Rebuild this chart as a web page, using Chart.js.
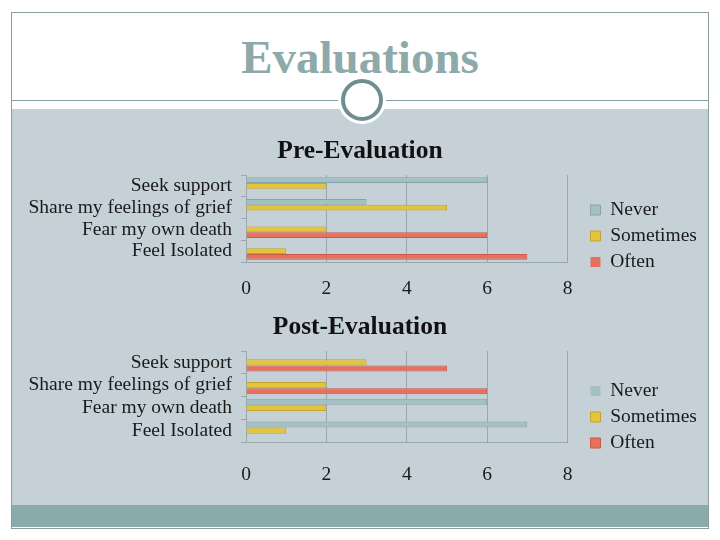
<!DOCTYPE html>
<html>
<head>
<meta charset="utf-8">
<title>Evaluations</title>
<script src="https://cdn.jsdelivr.net/npm/chart.js@4.4.1/dist/chart.umd.min.js"></script>
<style>
    body { margin: 0; width: 720px; height: 540px; position: relative; overflow: hidden; background: #fff; font-family: "Liberation Serif", serif; }
    #frame { position: absolute; left: 11px; top: 12px; width: 696px; height: 515px; border: 1px solid #8a9c9c; }
    #rule { position: absolute; left: 12px; top: 100px; width: 696px; height: 1px; background: #8a9c9c; }
    #panel { position: absolute; left: 12px; top: 109px; width: 696px; height: 396px; background: #c5d1d7; }
    #band { position: absolute; left: 12px; top: 505px; width: 696px; height: 22px; background: #8aabab; }
    #ring { position: absolute; left: 341px; top: 79px; width: 42px; height: 42px; box-sizing: border-box; border: 4.5px solid #6f8e8e; border-radius: 50%; background: #fff; box-shadow: 0 0 0 3px #fff; }
    #title { position: absolute; left: 0; top: 34px; width: 720px; text-align: center; font-size: 47px; line-height: 47px; font-weight: bold; color: #8ea9a9; }
    canvas { position: absolute; left: 0; }
    #pre { top: 135px; }
    #post { top: 311px; }
</style>
</head>
<body>
<div id="frame"></div>
<div id="rule"></div>
<div id="panel"></div>
<div id="band"></div>
<div id="ring"></div>
<div id="title">Evaluations</div>
<canvas id="pre" width="720" height="202"></canvas>
<canvas id="post" width="720" height="212"></canvas>
<script>
const categories = ['Seek support', 'Share my feelings of grief', 'Fear my own death', 'Feel Isolated'];
const seriesNames = ['Never', 'Sometimes', 'Often'];
const xTicks = [0, 2, 4, 6, 8];

const preNever = [6, 3, 0, 0];
const preSometimes = [2, 5, 2, 1];
const preOften = [0, 0, 6, 7];

const postNever = [0, 0, 6, 7];
const postSometimes = [3, 2, 2, 1];
const postOften = [5, 6, 0, 0];

const fills = ['#a3c0c2', '#e3c43b', '#e5705e'];
const borders = ['#87a4a6', '#c3a52c', '#c65b4b'];
const serif = '"Liberation Serif", serif';
const axisColor = '#9aa7ad';
const textSize = 19.5;

function makeChart(id, title, never, sometimes, often, tickPad, axisHeight)
{
    const values = [never, sometimes, often];
    const datasets = seriesNames.map((name, i) => ({
        label: name,
        data: values[i],
        backgroundColor: fills[i],
        borderColor: borders[i],
        borderWidth: c => (c.raw ? 1 : 0),
        borderSkipped: 'start',
        categoryPercentage: 0.8,
        barPercentage: 1.0,
        yAxisID: 'y'
    }));

    return new Chart(document.getElementById(id), {
        type: 'bar',
        data: { labels: categories, datasets: datasets },
        options: {
            indexAxis: 'y',
            responsive: false,
            animation: false,
            layout: { padding: { left: 24, right: 24 } },
            plugins: {
                title: {
                    display: true,
                    text: title,
                    color: '#111',
                    font: { family: serif, size: 25.5, weight: 'bold' },
                    padding: { top: 1, bottom: 8.4 }
                },
                legend: {
                    position: 'right',
                    align: 'center',
                    labels: {
                        boxWidth: 10,
                        boxHeight: 10,
                        padding: 6.5,
                        color: '#1a1a1a',
                        font: { family: serif, size: textSize }
                    }
                },
                tooltip: { enabled: false }
            },
            scales: {
                x: {
                    min: xTicks[0],
                    max: xTicks[xTicks.length - 1],
                    afterBuildTicks: s => { s.ticks = xTicks.map(v => ({ value: v })); },
                    ticks: { padding: tickPad, color: '#1a1a1a', font: { family: serif, size: textSize } },
                    grid: { color: axisColor, drawTicks: false },
                    border: { color: axisColor },
                    afterFit: s => { s.height = axisHeight; }
                },
                y: {
                    type: 'category',
                    grid: { offset: true, drawOnChartArea: false, drawTicks: true, tickLength: 5, color: axisColor },
                    border: { color: axisColor },
                    ticks: { autoSkip: false, padding: 9, color: '#1a1a1a', font: { family: serif, size: textSize } },
                    afterFit: s => { s.width = 222; }
                },
                gap: {
                    type: 'linear',
                    axis: 'y',
                    position: 'right',
                    grid: { display: false },
                    border: { display: false },
                    ticks: { display: false },
                    afterFit: s => { s.width = 16.5; }
                }
            }
        }
    });
}

makeChart('pre', 'Pre-Evaluation', preNever, preSometimes, preOften, 15, 75);
makeChart('post', 'Post-Evaluation', postNever, postSometimes, postOften, 21, 81);
</script>
</body>
</html>
